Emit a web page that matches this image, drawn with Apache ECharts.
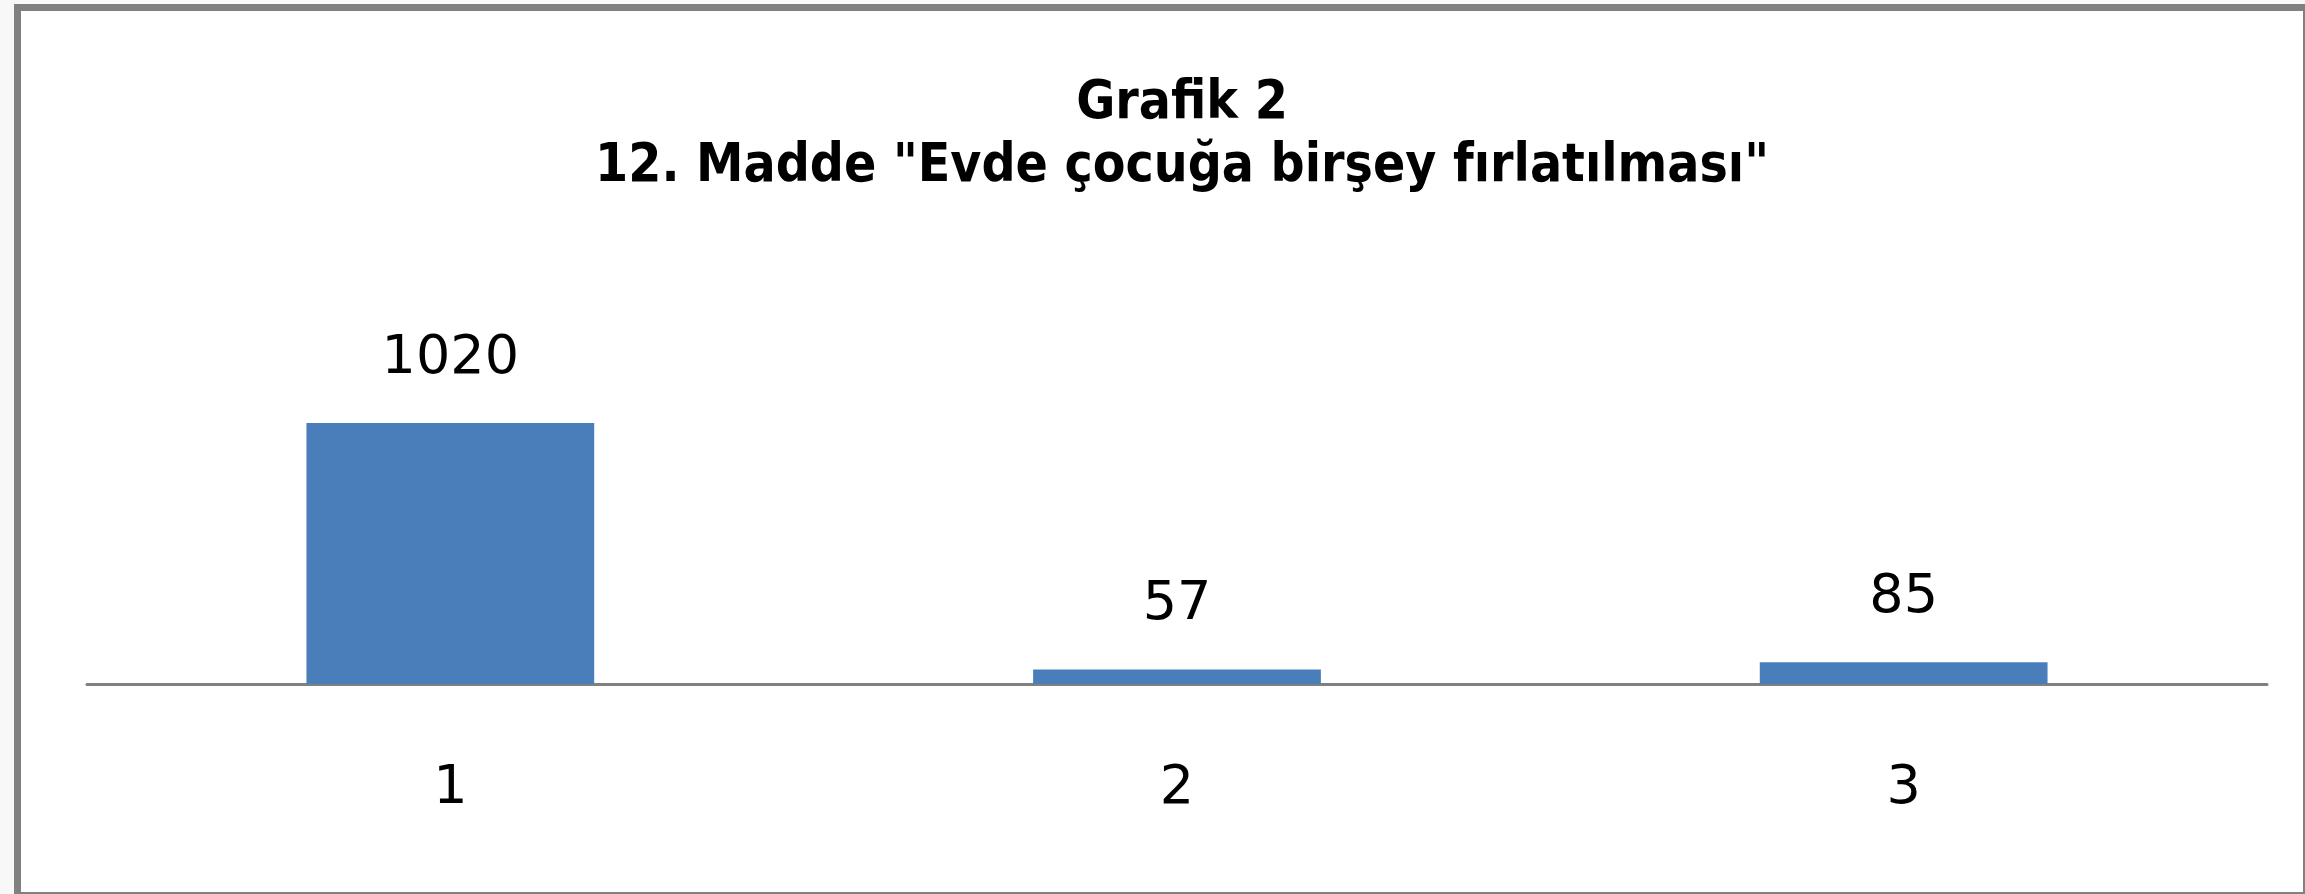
<!DOCTYPE html>
<html>
<head>
<meta charset="utf-8">
<script src="https://cdn.jsdelivr.net/npm/echarts@6/dist/echarts.min.js"></script>
<style>
  html, body { margin: 0; padding: 0; background: #f8f8f8; }
  #chart { width: 2305px; height: 894px; }
</style>
</head>
<body>
<div id="chart"></div>
<script>
const categories = ['1', '2', '3'];
const values = [1020, 57, 85];
const titleLines = ['Grafik 2', '12. Madde "Evde çocuğa birşey fırlatılması"'];

const chart = echarts.init(document.getElementById('chart'), null, { renderer: 'canvas' });
chart.setOption({
  backgroundColor: '#f8f8f8',
  animation: false,
  graphic: [
    { type: 'rect', z: -10, shape: { x: 14, y: 4, width: 2291, height: 890 }, style: { fill: '#808080' } },
    { type: 'rect', z: -9, shape: { x: 21, y: 11, width: 2282, height: 881 }, style: { fill: '#ffffff' } }
  ],
  title: {
    text: titleLines.join('\n'),
    left: 1177,
    top: 68,
    textAlign: 'center',
    textStyle: {
      fontFamily: '"Liberation Sans Narrow", "DejaVu Sans Condensed", "Liberation Sans", sans-serif',
      fontWeight: 'bold',
      fontSize: 53,
      lineHeight: 63,
      color: '#000000'
    }
  },
  grid: { left: 87, right: 38, top: 377, bottom: 210 },
  xAxis: {
    type: 'category',
    data: categories,
    axisLine: { show: true, lineStyle: { color: '#808080', width: 3 } },
    axisTick: { show: false },
    axisLabel: {
      margin: 78,
      fontFamily: '"DejaVu Sans", sans-serif',
      fontSize: 54,
      lineHeight: 54,
      color: '#000000'
    }
  },
  yAxis: {
    type: 'value',
    min: 0,
    max: 1200,
    show: false,
    splitLine: { show: false }
  },
  series: [{
    type: 'bar',
    data: values,
    barWidth: '39.6%',
    itemStyle: { color: '#4a7ebb' },
    label: {
      show: true,
      position: 'top',
      distance: 37,
      fontFamily: '"DejaVu Sans", sans-serif',
      fontSize: 54,
      lineHeight: 54,
      color: '#000000'
    }
  }]
});
</script>
</body>
</html>
